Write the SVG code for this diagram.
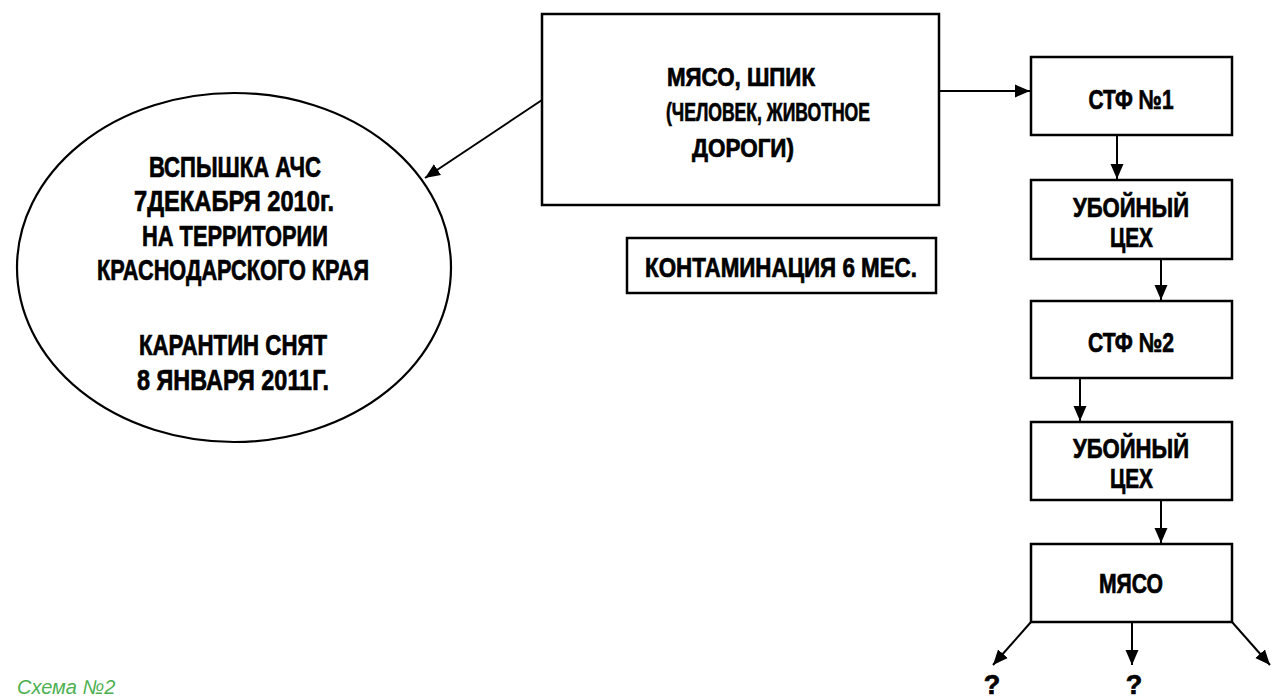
<svg xmlns="http://www.w3.org/2000/svg" width="1272" height="696" viewBox="0 0 1272 696">
<style>
.shape{fill:#fff;stroke:#000;stroke-width:2.5}
.ell{fill:#fff;stroke:#000;stroke-width:2.2}
.t{font-family:"Liberation Sans",Arial,sans-serif;font-weight:bold;fill:#000;stroke:#000;stroke-width:0.7;text-anchor:middle}
.e{font-size:30px}
.b{font-size:25px}
.s{font-size:27px}
.conn line{stroke:#000;stroke-width:2;fill:none;marker-end:url(#arr)}
.cap{font-family:"Liberation Sans",Arial,sans-serif;font-style:italic;font-size:20px;fill:#4cb050}
</style>
<defs>
<marker id="arr" markerUnits="userSpaceOnUse" markerWidth="16" markerHeight="14" refX="15" refY="7" orient="auto">
<path d="M0,0.5 L15,7 L0,13.5 z" fill="#000"/>
</marker>
</defs>
<rect width="1272" height="696" fill="#fff"/>

<g id="outbreak">
<ellipse class="ell" cx="234" cy="267.5" rx="217" ry="174.5"/>
<text class="t e" x="235" y="177" textLength="172" lengthAdjust="spacingAndGlyphs">ВСПЫШКА АЧС</text>
<text class="t e" x="234" y="211" textLength="200" lengthAdjust="spacingAndGlyphs">7ДЕКАБРЯ 2010г.</text>
<text class="t e" x="235" y="246" textLength="186" lengthAdjust="spacingAndGlyphs">НА ТЕРРИТОРИИ</text>
<text class="t e" x="233" y="280" textLength="272" lengthAdjust="spacingAndGlyphs">КРАСНОДАРСКОГО КРАЯ</text>
<text class="t e" x="233" y="355" textLength="188" lengthAdjust="spacingAndGlyphs">КАРАНТИН СНЯТ</text>
<text class="t e" x="233" y="390" textLength="192" lengthAdjust="spacingAndGlyphs">8 ЯНВАРЯ 2011Г.</text>
</g>

<g id="source">
<rect class="shape" x="542" y="14" width="397" height="191"/>
<text class="t b" x="741" y="86" textLength="148" lengthAdjust="spacingAndGlyphs">МЯСО, ШПИК</text>
<text class="t b" x="768" y="121" textLength="204" lengthAdjust="spacingAndGlyphs">(ЧЕЛОВЕК, ЖИВОТНОЕ</text>
<text class="t b" x="743" y="157" textLength="102" lengthAdjust="spacingAndGlyphs">ДОРОГИ)</text>
</g>

<g id="contamination">
<rect class="shape" x="627" y="238" width="309" height="55"/>
<text class="t s" x="781" y="277" textLength="272" lengthAdjust="spacingAndGlyphs">КОНТАМИНАЦИЯ 6 МЕС.</text>
</g>

<g id="stf1">
<rect class="shape" x="1031" y="57" width="201" height="78"/>
<text class="t s" x="1131" y="109" textLength="85" lengthAdjust="spacingAndGlyphs">СТФ №1</text>
</g>

<g id="slaughter1">
<rect class="shape" x="1031" y="180" width="201" height="79"/>
<text class="t s" x="1131" y="217" textLength="116" lengthAdjust="spacingAndGlyphs">УБОЙНЫЙ</text>
<text class="t s" x="1131.5" y="247" textLength="43" lengthAdjust="spacingAndGlyphs">ЦЕХ</text>
</g>

<g id="stf2">
<rect class="shape" x="1031" y="301" width="201" height="77"/>
<text class="t s" x="1131" y="352" textLength="86" lengthAdjust="spacingAndGlyphs">СТФ №2</text>
</g>

<g id="slaughter2">
<rect class="shape" x="1031" y="422" width="201" height="78"/>
<text class="t s" x="1131" y="458" textLength="116" lengthAdjust="spacingAndGlyphs">УБОЙНЫЙ</text>
<text class="t s" x="1131.5" y="488" textLength="43" lengthAdjust="spacingAndGlyphs">ЦЕХ</text>
</g>

<g id="meat">
<rect class="shape" x="1031" y="544" width="201" height="78"/>
<text class="t s" x="1131" y="593" textLength="64" lengthAdjust="spacingAndGlyphs">МЯСО</text>
</g>

<g id="q1"><text class="t s" x="992" y="694">?</text></g>
<g id="q2"><text class="t s" x="1134" y="694">?</text></g>

<g id="connectors" class="conn">
<line x1="542" y1="100" x2="425" y2="178"/>
<line x1="939" y1="91" x2="1030" y2="91"/>
<line x1="1117" y1="135" x2="1117" y2="179"/>
<line x1="1161" y1="259" x2="1161" y2="300"/>
<line x1="1080" y1="378" x2="1080" y2="421"/>
<line x1="1161" y1="500" x2="1161" y2="543"/>
<line x1="1031" y1="622" x2="993" y2="665"/>
<line x1="1132" y1="622" x2="1132" y2="665"/>
<line x1="1232" y1="622" x2="1270" y2="665"/>
</g>

<text class="cap" x="17" y="694">Схема №2</text>
</svg>
